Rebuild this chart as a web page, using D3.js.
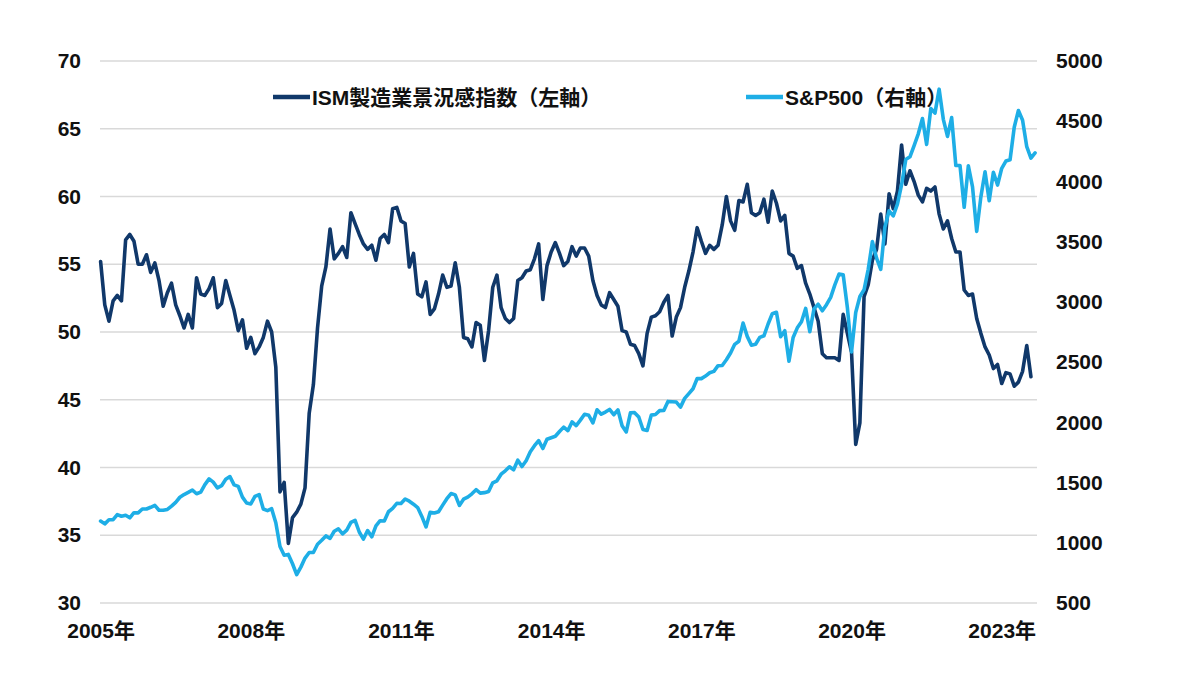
<!doctype html>
<html lang="ja">
  <head>
    <meta charset="UTF-8" />
    <title>ISM製造業景況感指数とS&amp;P500</title>
    <script src="https://d3js.org/d3.v7.min.js"></script>
    <style>
      body {
        margin: 0;
        padding: 0;
        background: #fff;
      }

      svg text {
        font-family: 'Liberation Sans', Arial, 'Noto Sans CJK JP', sans-serif;
        font-weight: bold;
        fill: #111;
      }

      .grid line {
        stroke: #d9d9d9;
        stroke-width: 1.5px;
      }

      .series {
        fill: none;
        stroke-width: 3.6px;
        stroke-linejoin: round;
        stroke-linecap: round;
      }
    </style>
  </head>
  <body>
    <svg id="chart" width="1200" height="673"></svg>

    <script>
      // months from 2005-03 to 2023-11 (category axis)
      const months = d3
        .timeMonth.range(new Date(2005, 2, 1), new Date(2023, 11, 1))
        .map(d3.timeFormat('%Y-%m'));

      // x labels every 36 months
      const xTickIdx = [0, 36, 72, 108, 144, 180, 216];
      const xTickLabels = ['2005年', '2008年', '2011年', '2014年', '2017年', '2020年', '2023年'];

      const leftTicks = [30, 35, 40, 45, 50, 55, 60, 65, 70];
      const rightTicks = [500, 1000, 1500, 2000, 2500, 3000, 3500, 4000, 4500, 5000];

      // ISM manufacturing PMI (left axis), 2005-03 .. 2023-10
      const ism = [
        55.2, 52.0, 50.8, 52.3, 52.7, 52.3, 56.8, 57.2, 56.7, 55.0,
        55.0, 55.7, 54.4, 55.1, 53.8, 51.9, 52.9, 53.6, 52.0, 51.2,
        50.3, 51.3, 50.3, 54.0, 52.8, 52.7, 53.2, 54.0, 51.8, 52.1,
        53.8, 52.7, 51.6, 50.1, 50.9, 48.8, 49.6, 48.4, 48.9, 49.6,
        50.8, 50.0, 47.4, 38.2, 38.9, 34.4, 36.3, 36.7, 37.3, 38.5,
        44.0, 46.1, 50.3, 53.4, 54.8, 57.6, 55.4, 55.8, 56.3, 55.5,
        58.8, 58.0, 57.2, 56.5, 56.1, 56.4, 55.3, 56.9, 57.2, 56.6,
        59.1, 59.2, 58.2, 58.0, 54.8, 55.8, 52.8, 52.6, 53.7, 51.3,
        51.7, 52.8, 54.2, 53.3, 53.4, 55.1, 53.3, 49.6, 49.5, 48.9,
        50.7, 50.5, 47.9, 50.1, 53.3, 54.2, 51.8, 51.0, 50.7, 51.0,
        53.8, 54.0, 54.5, 54.6, 55.4, 56.5, 52.4, 54.9, 55.9, 56.6,
        55.8, 54.9, 55.2, 56.3, 55.6, 56.2, 56.2, 55.6, 53.8, 52.7,
        52.0, 51.8, 52.9, 52.4, 51.9, 50.1, 50.0, 49.1, 49.0, 48.4,
        47.5, 49.9, 51.1, 51.2, 51.5, 52.2, 52.7, 49.7, 51.1, 51.8,
        53.3, 54.5, 55.9, 57.7, 56.7, 55.8, 56.4, 56.1, 56.4, 57.9,
        60.0, 58.2, 57.5, 59.7, 59.6, 60.9, 58.8, 58.6, 58.8, 59.8,
        58.1, 60.4, 59.5, 58.2, 58.6, 55.8, 55.6, 54.7, 54.9, 53.6,
        52.8, 51.8, 50.8, 48.4, 48.1, 48.1, 48.1, 47.9, 51.3, 49.9,
        48.5, 41.7, 43.3, 52.6, 53.5, 55.3, 56.1, 58.7, 56.5, 60.2,
        59.1, 60.4, 63.8, 60.9, 61.9, 61.1, 60.1, 59.6, 60.6, 60.4,
        60.7, 58.7, 57.6, 58.2, 56.9, 55.9, 55.9, 53.1, 52.7, 52.8,
        51.0, 49.9, 48.9, 48.3, 47.3, 47.6, 46.2, 47.0, 46.9, 46.0,
        46.3, 47.1, 49.0, 46.7,
      ];

      // S&P500 month end (right axis), 2005-03 .. 2023-11
      const spx = [
        1180.6, 1156.9, 1191.5, 1191.3, 1234.2, 1220.3, 1228.8, 1207.0, 1249.5, 1248.3,
        1280.1, 1280.7, 1294.8, 1310.6, 1270.1, 1270.2, 1276.7, 1303.8, 1335.9, 1377.9, 1400.6, 1418.3,
        1438.2, 1406.8, 1420.9, 1482.4, 1530.6, 1503.4, 1455.3, 1474.0, 1526.8, 1549.4, 1481.1, 1468.4,
        1378.6, 1330.6, 1322.7, 1385.6, 1400.4, 1280.0, 1267.4, 1282.8, 1166.4, 968.8, 896.2, 903.3,
        825.9, 735.1, 797.9, 872.8, 919.1, 919.3, 987.5, 1020.6, 1057.1, 1036.2, 1095.6, 1115.1,
        1073.9, 1104.5, 1169.4, 1186.7, 1089.4, 1030.7, 1101.6, 1049.3, 1141.2, 1183.3, 1180.6, 1257.6,
        1286.1, 1327.2, 1325.8, 1363.6, 1345.2, 1320.6, 1292.3, 1218.9, 1131.4, 1253.3, 1247.0, 1257.6,
        1312.4, 1365.7, 1408.5, 1397.9, 1310.3, 1362.2, 1379.3, 1406.6, 1440.7, 1412.2, 1416.2, 1426.2,
        1498.1, 1514.7, 1569.2, 1597.6, 1630.7, 1606.3, 1685.7, 1633.0, 1681.6, 1756.5, 1805.8, 1848.4,
        1782.6, 1859.5, 1872.3, 1884.0, 1923.6, 1960.2, 1930.7, 2003.4, 1972.3, 2018.1, 2067.6, 2058.9,
        1995.0, 2104.5, 2067.9, 2085.5, 2107.4, 2063.1, 2103.8, 1972.2, 1920.0, 2079.4, 2080.4, 2043.9,
        1940.2, 1932.2, 2059.7, 2065.3, 2097.0, 2098.9, 2173.6, 2171.0, 2168.3, 2126.2, 2198.8, 2238.8,
        2278.9, 2363.6, 2362.7, 2384.2, 2411.8, 2423.4, 2470.3, 2471.7, 2519.4, 2575.3, 2647.6, 2673.6,
        2823.8, 2713.8, 2640.9, 2648.1, 2705.3, 2718.4, 2816.3, 2901.5, 2914.0, 2711.7, 2760.2, 2506.9,
        2704.1, 2784.5, 2834.4, 2945.8, 2752.1, 2941.8, 2980.4, 2926.5, 2976.7, 3037.6, 3141.0, 3230.8,
        3225.5, 2954.2, 2584.6, 2912.4, 3044.3, 3100.3, 3271.1, 3500.3, 3363.0, 3270.0, 3621.6, 3756.1,
        3714.2, 3811.2, 3972.9, 4181.2, 4204.1, 4297.5, 4395.3, 4522.7, 4307.5, 4605.4, 4567.0, 4766.2,
        4515.6, 4373.9, 4530.4, 4131.9, 4132.2, 3785.4, 4130.3, 3955.0, 3585.6, 3872.0, 4080.1, 3839.5,
        4076.6, 3970.2, 4109.3, 4169.5, 4179.8, 4450.4, 4589.0, 4507.7, 4288.1, 4193.8, 4237.9,
      ];

      const seriesNames = ['ISM製造業景況感指数（左軸）', 'S&P500（右軸）'];
      const colors = ['#10386a', '#1eaee6'];

      const plot = { left: 100, right: 1037, top: 61, bottom: 603 };
      const fontSize = '21px';

      const svg = d3.select('#chart');

      const x = d3
        .scalePoint()
        .domain(months)
        .range([100.6, 1035.1]);

      const yL = d3
        .scaleLinear()
        .domain([30, 70])
        .range([plot.bottom, plot.top]);

      const yR = d3
        .scaleLinear()
        .domain([500, 5000])
        .range([plot.bottom, plot.top]);

      // gridlines follow the left axis
      svg
        .append('g')
        .attr('class', 'grid')
        .selectAll('line')
        .data(leftTicks)
        .enter()
        .append('line')
        .attr('x1', plot.left)
        .attr('x2', plot.right)
        .attr('y1', (d) => yL(d))
        .attr('y2', (d) => yL(d));

      // left axis
      const leftAxis = svg
        .append('g')
        .attr('transform', 'translate(81,0)')
        .call(d3.axisLeft(yL).tickValues(leftTicks).tickSize(0).tickPadding(0));
      leftAxis.select('.domain').remove();
      leftAxis.selectAll('text').style('font-size', fontSize).attr('fill', '#111');

      // right axis
      const rightAxis = svg
        .append('g')
        .attr('transform', 'translate(1056,0)')
        .call(
          d3
            .axisRight(yR)
            .tickValues(rightTicks)
            .tickFormat(d3.format('d'))
            .tickSize(0)
            .tickPadding(0),
        );
      rightAxis.select('.domain').remove();
      rightAxis.selectAll('text').style('font-size', fontSize).attr('fill', '#111');

      // bottom axis (category labels every 3 years)
      const bottomAxis = svg
        .append('g')
        .attr('transform', 'translate(0,623)')
        .call(
          d3
            .axisBottom(x)
            .tickValues(xTickIdx.map((i) => months[i]))
            .tickFormat((d, i) => xTickLabels[i])
            .tickSize(0)
            .tickPadding(0),
        );
      bottomAxis.select('.domain').remove();
      bottomAxis.selectAll('text').style('font-size', fontSize).attr('fill', '#111');

      // lines
      const ismLine = d3
        .line()
        .x((d, i) => x(months[i]))
        .y((d) => yL(d));

      const spxLine = d3
        .line()
        .x((d, i) => x(months[i]))
        .y((d) => yR(d));

      svg
        .append('path')
        .datum(ism)
        .attr('class', 'series')
        .attr('stroke', colors[0])
        .attr('d', ismLine);

      svg
        .append('path')
        .datum(spx)
        .attr('class', 'series')
        .attr('stroke', colors[1])
        .attr('d', spxLine);

      // legend
      const legendPos = [
        { x: 273, y: 97 },
        { x: 746, y: 97 },
      ];
      const legend = svg
        .selectAll('.legend')
        .data(seriesNames)
        .enter()
        .append('g')
        .attr('class', 'legend')
        .attr('transform', (d, i) => `translate(${legendPos[i].x},${legendPos[i].y})`);

      legend
        .append('line')
        .attr('x1', 0)
        .attr('x2', 37)
        .attr('y1', 0)
        .attr('y2', 0)
        .attr('stroke', (d, i) => colors[i])
        .attr('stroke-width', 4.5);

      legend
        .append('text')
        .attr('x', 39)
        .attr('dy', '0.36em')
        .style('font-size', fontSize)
        .text((d) => d);
    </script>
  </body>
</html>
